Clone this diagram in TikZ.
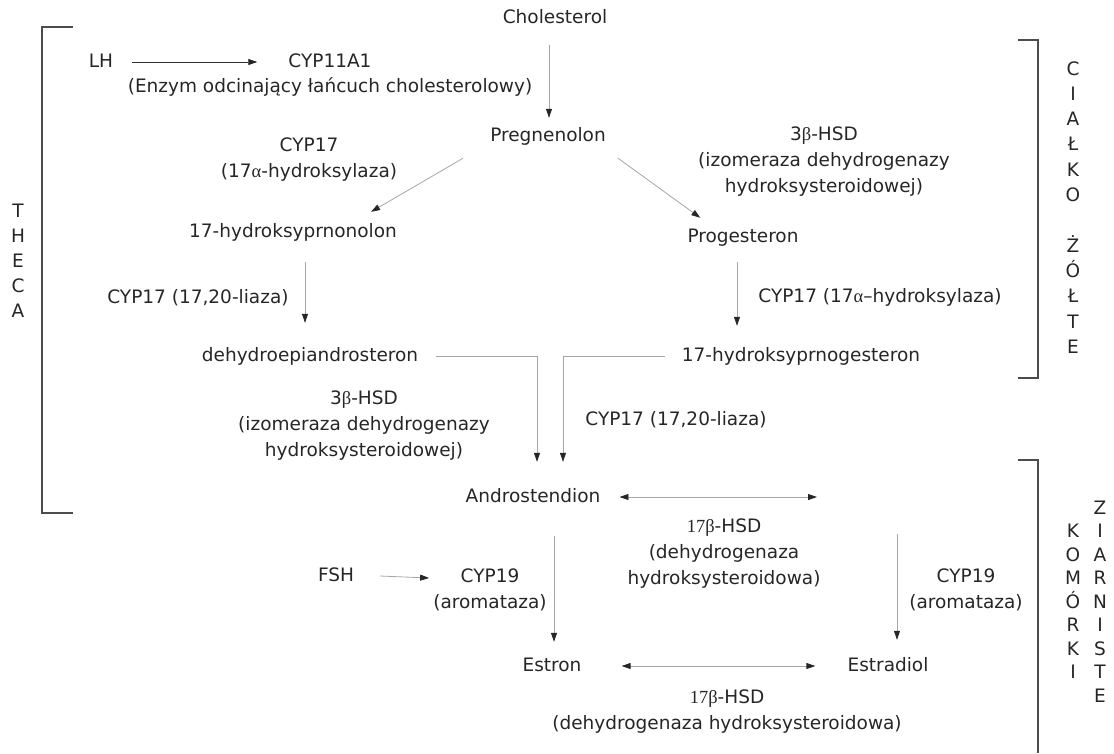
\documentclass[tikz,border=0pt]{standalone}
\usepackage{fontspec}
\setmainfont{DejaVu Sans}
\newfontfamily\grk{Liberation Serif}
\usetikzlibrary{arrows.meta}

\begin{document}
\begin{tikzpicture}[x=1pt,y=-1pt,>={Triangle[length=9pt,width=6pt,color=black!85]},
  every node/.style={inner sep=0pt,text=black!85,font=\fontsize{18.5}{26}\selectfont},
  mol/.style={text height=14pt,text depth=4pt},
  enz/.style={align=center},
  conn/.style={->,gray!70,line width=0.8pt},
  dconn/.style={<->,gray!70,line width=0.8pt},
  brk/.style={black!70,line width=1.3pt}]
\useasboundingbox (0,0) rectangle (1114,753);
% steroids (y runs downwards, 1pt = 1px of the layout)
\node[mol] (chol) at (555,18) {Cholesterol};
\node[mol] (pregn) at (548,136) {Pregnenolon};
\node[mol] (hpreg) at (293,232) {17-hydroksyprnonolon};
\node[mol] (prog) at (743,237) {Progesteron};
\node[mol] (dhea) at (310,356) {dehydroepiandrosteron};
\node[mol] (hprog) at (801,356) {17-hydroksyprnogesteron};
\node[mol] (andro) at (533,497) {Androstendion};
\node[mol] (estron) at (552,666) {Estron};
\node[mol] (estradiol) at (888,666) {Estradiol};
\coordinate (testo) at (857,497);
% hormones and enzymes
\node[mol] (lh) at (101,62) {LH};
\node[mol] (cyp11) at (330,62) {CYP11A1};
\node[mol] (cyp11name) at (330,87) {(Enzym odcinający łańcuch cholesterolowy)};
\node[enz] (cyp17a) at (309,160) {CYP17\\(17{\grk α}-hydroksylaza)};
\node[enz] (hsdA) at (824,162) {3{\grk β}-HSD\\(izomeraza dehydrogenazy\\hydroksysteroidowej)};
\node (cyp17b) at (198,298) {CYP17 (17,20-liaza)};
\node (cyp17c) at (880,297) {CYP17 (17{\grk α}–hydroksylaza)};
\node[enz] (hsdB) at (364,426) {3{\grk β}-HSD\\(izomeraza dehydrogenazy\\hydroksysteroidowej)};
\node (cyp17d) at (676,420) {CYP17 (17,20-liaza)};
\node[enz] (hsdC) at (724,554) {{\grk 17β}-HSD\\(dehydrogenaza\\hydroksysteroidowa)};
\node[mol] (fsh) at (336,576) {FSH};
\node[enz] (cyp19a) at (490,590) {CYP19\\(aromataza)};
\node[enz] (cyp19b) at (966,590) {CYP19\\(aromataza)};
\node[enz] (hsdD) at (727,712) {{\grk 17β}-HSD\\(dehydrogenaza hydroksysteroidowa)};
% reactions
\draw[conn] ([xshift=-6pt,yshift=-18pt]chol.south) -- ([xshift=1pt,yshift=9pt]pregn.north);
\draw[conn] ([xshift=-27pt,yshift=-13pt]pregn.south west) -- ([xshift=-26pt,yshift=11pt]hpreg.north east);
\draw[conn] ([xshift=12pt,yshift=-13pt]pregn.south east) -- ([xshift=13pt,yshift=10pt]prog.north west);
\draw[conn] ([xshift=12pt,yshift=-21pt]hpreg.south) -- ([xshift=-5pt,yshift=24pt]dhea.north);
\draw[conn] ([xshift=-6pt,yshift=-16pt]prog.south) -- ([xshift=-64pt,yshift=21pt]hprog.north);
\draw[conn] ([xshift=18pt]dhea.east) -| ([xshift=4pt,yshift=26pt]andro.north);
\draw[conn] ([xshift=-17pt]hprog.west) -| ([xshift=30pt,yshift=26pt]andro.north);
\draw[dconn] ([xshift=19pt]andro.east) -- ([xshift=-40pt]testo);
\draw[conn] ([xshift=40pt,yshift=-37pt]testo) -- ([xshift=9pt,yshift=17pt]estradiol.north);
\draw[conn] ([xshift=21pt,yshift=-30pt]andro.south) -- ([xshift=2pt,yshift=15pt]estron.north);
\draw[dconn] ([xshift=40pt]estron.east) -- ([xshift=-32pt]estradiol.west);
\draw[conn,black!80] ([xshift=19pt]lh.east) -- ([xshift=-31pt]cyp11.west);
\draw[conn] ([xshift=26pt]fsh.east) -- ([xshift=-4pt,yshift=12pt]cyp19a.west);
% cell compartments
\draw[brk] (73,27) -- (42,27) -- (42,513) -- (73,513);
\draw[brk] (1018,40) -- (1038,40) -- (1038,378) -- (1018,378);
\draw[brk] (1018,460) -- (1038,460) -- (1038,753);
\foreach \l [count=\i from 0] in {T,H,E,C,A}
  \node[mol] (theca\i) at (18,212+25*\i) {\l};
\foreach \l [count=\i from 0] in {C,I,A,Ł,K,O}
  \node[mol] (cialko\i) at (1073,70+25.3*\i) {\l};
\foreach \l [count=\i from 7] in {Ż,Ó,Ł,T,E}
  \node[mol] (zolte\i) at (1073,70+25.3*\i) {\l};
\foreach \l [count=\i from 1] in {K,O,M,Ó,R,K,I}
  \node[mol] (komorki\i) at (1073,509+23.5*\i) {\l};
\foreach \l [count=\i from 0] in {Z,I,A,R,N,I,S,T,E}
  \node[mol] (ziarn\i) at (1100,509+23.5*\i) {\l};
\end{tikzpicture}
\end{document}
